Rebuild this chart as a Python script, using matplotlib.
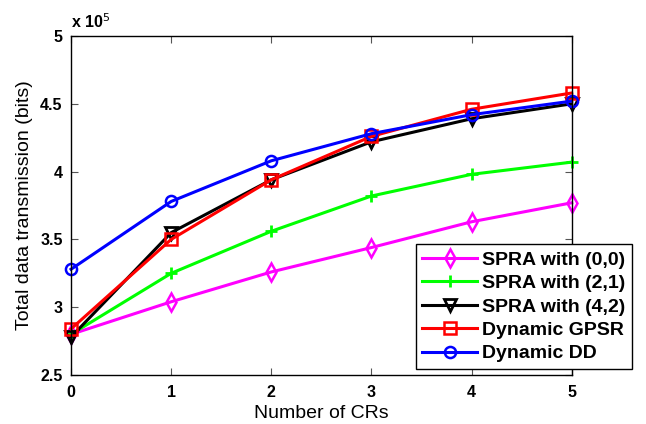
import numpy as np
import matplotlib.pyplot as plt

plt.rcParams['font.family'] = ['Liberation Sans', 'DejaVu Sans']

# Number of CRs
crs = [0, 1, 2, 3, 4, 5]

# Total data transmission, in units of 1e5 bits
spra_00 = [2.80, 3.04, 3.26, 3.44, 3.63, 3.77]
spra_21 = [2.80, 3.25, 3.56, 3.82, 3.98, 4.07]
spra_42 = [2.78, 3.55, 3.94, 4.22, 4.39, 4.50]
gpsr = [2.84, 3.50, 3.94, 4.26, 4.46, 4.58]
dd = [3.28, 3.78, 4.08, 4.28, 4.42, 4.52]

labels = ['SPRA with (0,0)', 'SPRA with (2,1)', 'SPRA with (4,2)',
          'Dynamic GPSR', 'Dynamic DD']

fig = plt.figure(figsize=(6.46, 4.24), dpi=100)
ax = fig.add_axes([0.110, 0.1156, 0.775, 0.7994])

#-------------------------------------------------------------------------------
# series (markers not clipped at the axes edge, like matlab)
ax.plot(crs, spra_00, color='#ff00ff', marker='d', ms=9, mfc='none', mew=1.8, lw=2.2, label=labels[0], clip_on=False)
ax.plot(crs, spra_21, color='#00ff00', marker='+', ms=9, mew=2, lw=2.2, label=labels[1], clip_on=False)
ax.plot(crs, spra_42, color='black', marker='v', ms=9, mfc='none', mew=2, lw=2.2, label=labels[2], clip_on=False)
ax.plot(crs, gpsr, color='red', marker='s', ms=8, mfc='none', mew=1.8, lw=2.2, label=labels[3], clip_on=False)
ax.plot(crs, dd, color='blue', marker='o', ms=8, mfc='none', mew=1.8, lw=2.2, label=labels[4], clip_on=False)

#-------------------------------------------------------------------------------
# axes styling (matlab look)
ax.set_xlim(0, 5)
ax.set_ylim(2.5, 5)
ax.set_xticks(crs)
ax.set_yticks([2.5, 3, 3.5, 4, 4.5, 5])
ax.set_yticklabels(['2.5', '3', '3.5', '4', '4.5', '5'])
ax.tick_params(direction='in', top=True, right=True, length=5, labelsize=11.5,
               color='#555555')
ax.tick_params(axis='x', pad=7)
ax.tick_params(axis='y', pad=6)
for lab in ax.get_xticklabels() + ax.get_yticklabels():
    lab.set_fontweight('bold')
for s in ax.spines.values():
    s.set_linewidth(1.0)

ax.set_xlabel('Number of CRs', fontsize=14, labelpad=4)
ax.set_ylabel('Total data transmission (bits)', fontsize=14, labelpad=5)
ax.text(0.0, 1.015, r'x 10$^{5}$', transform=ax.transAxes, fontsize=11.5,
        fontweight='bold', ha='left', va='bottom')

leg = fig.legend(loc='upper right', bbox_to_anchor=(0.978, 0.424),
                 fancybox=False, edgecolor='black', framealpha=1,
                 prop={'weight': 'bold', 'size': 14}, handlelength=2.8,
                 borderpad=0.35, labelspacing=0.3, handletextpad=0.25,
                 borderaxespad=0.0)
leg.get_frame().set_linewidth(1.0)

fig.savefig('out.png', dpi=100)
